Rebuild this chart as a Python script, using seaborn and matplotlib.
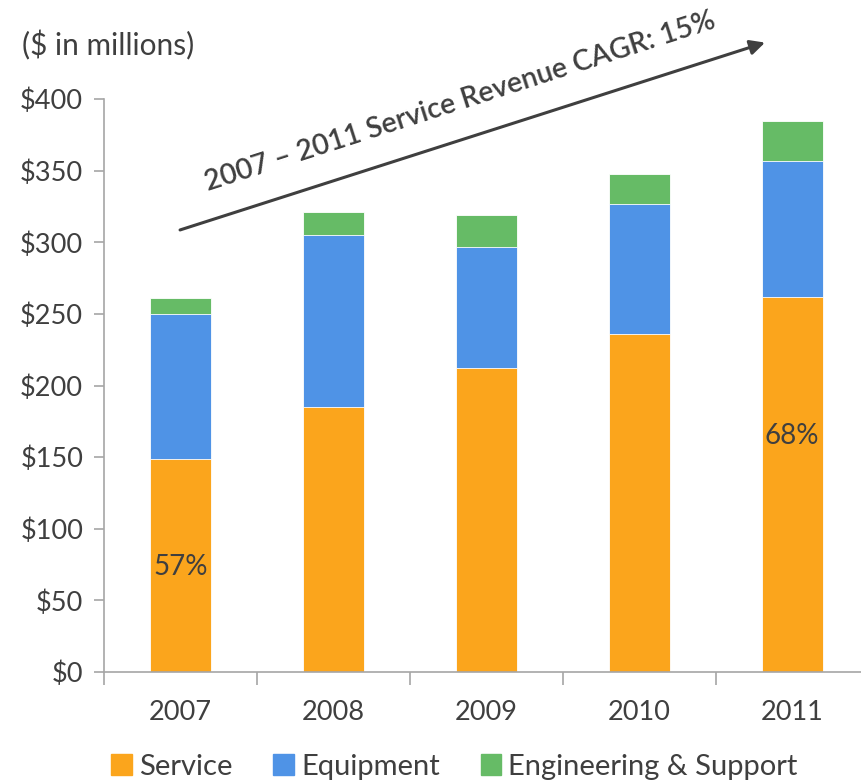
import matplotlib
matplotlib.use('Agg')
import matplotlib.pyplot as plt
from matplotlib.patches import Patch
from matplotlib.ticker import FixedLocator
import seaborn as sns
import pandas as pd

# 数据（单位：百万美元）
years = ['2007', '2008', '2009', '2010', '2011']
service = [149, 185, 212, 236, 262]
equipment = [101, 120, 85, 91, 95]
engineering = [11, 16, 22, 21, 28]
pct_labels = {0: '57%', 4: '68%'}

c_service = '#FBA51C'
c_equip = '#4F93E6'
c_eng = '#66BB66'
text_c = '#3F3F3F'
axis_c = '#A6A6A6'

sns.set_style('white')
plt.rcParams['font.family'] = ['Lato', 'DejaVu Sans']

df = pd.DataFrame({'year': years, 'service': service,
                   'equipment': equipment, 'engineering': engineering})
df['s_e'] = df['service'] + df['equipment']
df['total'] = df['s_e'] + df['engineering']

fig = plt.figure(figsize=(8.61, 7.81), dpi=100)
ax = fig.add_axes([0.1208, 0.1396, 0.888, 0.7336])

# 叠加绘制：总量 -> 服务+设备 -> 服务
for col, c in [('total', c_eng), ('s_e', c_equip), ('service', c_service)]:
    sns.barplot(data=df, x='year', y=col, color=c, width=0.40,
                edgecolor='white', linewidth=0.6, saturation=1, ax=ax)

ax.set_xlim(-0.5, 4.5)
ax.set_ylim(0, 400)
ax.set_yticks(range(0, 401, 50))
ax.set_yticklabels([f'${v}' for v in range(0, 401, 50)])
ax.set_xlabel('')
ax.set_ylabel('')

for s in ['top', 'right']:
    ax.spines[s].set_visible(False)
for s in ['left', 'bottom']:
    ax.spines[s].set_color(axis_c)
    ax.spines[s].set_linewidth(1.2)

ax.tick_params(axis='y', left=True, length=7, width=1.2, color=axis_c,
               labelsize=19.5, labelcolor=text_c, pad=8)
ax.tick_params(axis='x', which='major', length=0, labelsize=19.5,
               labelcolor=text_c, pad=20)
ax.xaxis.set_minor_locator(FixedLocator([i - 0.5 for i in range(6)]))
ax.tick_params(axis='x', which='minor', bottom=True, length=9, width=1.2,
               color=axis_c)

# 百分比标注
for i, lab in pct_labels.items():
    y = df['service'][i] * (0.49 if i == 0 else 0.63)
    ax.text(i, y, lab, ha='center', va='center', fontsize=20, color=text_c)

# CAGR 箭头
ax.annotate('', xy=(3.84, 440), xytext=(-0.02, 308),
            arrowprops=dict(arrowstyle='-|>', color=text_c, lw=2.2,
                            mutation_scale=22),
            annotation_clip=False)
ax.text(1.83, 398, '2007 \u2013 2011 Service Revenue CAGR: 15%', rotation=17.8,
        rotation_mode='anchor', ha='center', va='center', fontsize=20.5,
        color=text_c, fontweight='semibold', clip_on=False)

fig.text(0.025, 0.942, '($ in millions)', fontsize=21.5, color=text_c,
         ha='left', va='center')

handles = [Patch(color=c_service, label='Service'),
           Patch(color=c_equip, label='Equipment'),
           Patch(color=c_eng, label='Engineering & Support')]
fig.legend(handles=handles, loc='center', bbox_to_anchor=(0.528, 0.018),
           ncol=3, frameon=False, fontsize=21, labelcolor=text_c,
           handlelength=0.7, handleheight=0.75, handletextpad=0.25,
           columnspacing=1.4)

fig.savefig('out.png', dpi=100)
